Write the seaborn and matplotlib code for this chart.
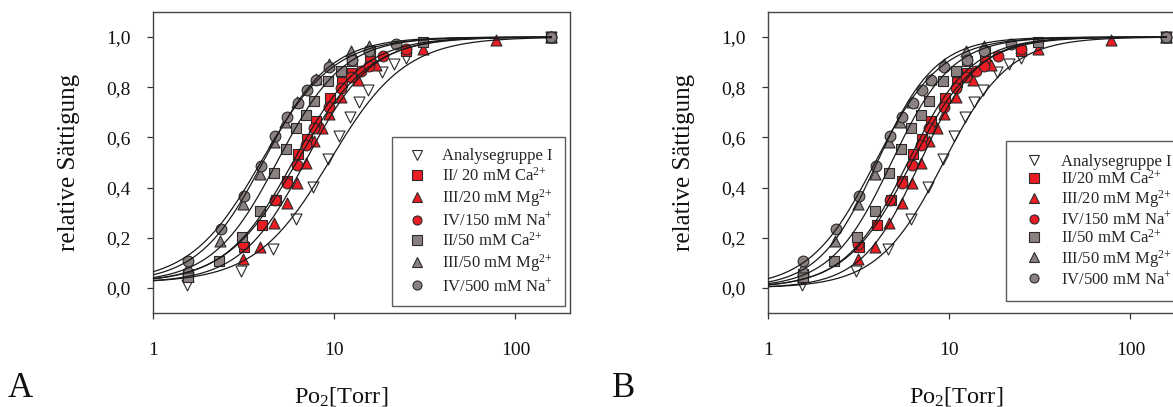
import numpy as np
import pandas as pd
import matplotlib
matplotlib.use("Agg")
import matplotlib.pyplot as plt
from matplotlib.lines import Line2D
import seaborn as sns

sns.set_theme(style="ticks")
plt.rcParams["font.family"] = ["Liberation Serif", "DejaVu Serif"]
plt.rcParams["mathtext.fontset"] = "custom"
plt.rcParams["mathtext.rm"] = "Liberation Serif"
plt.rcParams["mathtext.it"] = "Liberation Serif:italic"
plt.rcParams["mathtext.bf"] = "Liberation Serif:bold"

# ---- measured oxygen binding data (Po2 in Torr, relative saturation) ----
po2_ana = [1.54, 3.06, 4.6, 6.16, 7.65, 9.27, 10.65, 12.25, 13.75, 15.4, 18.4, 21.4, 24.9, 158]
sat_ana = [0.012, 0.068, 0.156, 0.276, 0.404, 0.512, 0.604, 0.68, 0.74, 0.788, 0.86, 0.892, 0.916, 1.0]

po2_ca20 = [1.56, 3.18, 4.0, 4.77, 5.5, 6.33, 7.1, 7.95, 9.5, 11.1, 12.6, 15.8, 25, 158]
sat_ca20 = [0.056, 0.164, 0.252, 0.352, 0.428, 0.532, 0.592, 0.664, 0.756, 0.82, 0.856, 0.904, 0.944, 1.0]

po2_mg20 = [1.56, 3.14, 3.9, 4.66, 5.5, 6.25, 7.0, 7.78, 8.6, 9.4, 10.9, 13.5, 17.0, 31, 78.5, 158]
sat_mg20 = [0.048, 0.116, 0.164, 0.26, 0.34, 0.42, 0.5, 0.585, 0.636, 0.692, 0.76, 0.83, 0.89, 0.952, 0.988, 1.0]

po2_na150 = [1.56, 3.14, 4.72, 5.5, 6.25, 7.0, 7.75, 9.4, 10.9, 12.4, 14.1, 15.6, 18.6, 25, 158]
sat_na150 = [0.05, 0.176, 0.352, 0.42, 0.492, 0.568, 0.636, 0.72, 0.796, 0.84, 0.864, 0.884, 0.924, 0.952, 1.0]

po2_ca50 = [1.56, 2.32, 3.1, 3.9, 4.66, 5.43, 6.16, 7.0, 7.75, 9.27, 10.9, 12.6, 15.8, 31, 158]
sat_ca50 = [0.044, 0.108, 0.204, 0.308, 0.46, 0.552, 0.636, 0.688, 0.744, 0.824, 0.864, 0.904, 0.944, 0.98, 1.0]

po2_mg50 = [1.56, 2.35, 3.14, 3.9, 4.66, 5.35, 6.25, 7.95, 9.4, 12.4, 15.6, 158]
sat_mg50 = [0.084, 0.188, 0.336, 0.456, 0.58, 0.66, 0.74, 0.832, 0.892, 0.944, 0.964, 1.0]

po2_na500 = [1.56, 2.38, 3.18, 3.95, 4.72, 5.5, 6.33, 7.1, 7.95, 9.4, 12.6, 15.6, 22, 158]
sat_na500 = [0.108, 0.236, 0.368, 0.488, 0.604, 0.68, 0.736, 0.788, 0.828, 0.88, 0.908, 0.944, 0.972, 1.0]

labels_a = ["Analysegruppe I", r"II/ 20 mM Ca$^{2{+}}$", r"III/20 mM Mg$^{2{+}}$",
            r"IV/150 mM Na$^{{+}}$", r"II/50 mM Ca$^{2{+}}$", r"III/50 mM Mg$^{2{+}}$",
            r"IV/500 mM Na$^{{+}}$"]
labels_b = ["Analysegruppe I", r"II/20 mM Ca$^{2{+}}$", r"III/20 mM Mg$^{2{+}}$",
            r"IV/150 mM Na$^{{+}}$", r"II/50 mM Ca$^{2{+}}$", r"III/50 mM Mg$^{2{+}}$",
            r"IV/500 mM Na$^{{+}}$"]

# ---- Hill fit parameters: half-saturation pressure P50, Hill coefficient n, baseline ----
p50_a = [9.5, 6.0, 7.0, 6.3, 4.9, 4.1, 4.0]
hill_a = [2.1, 2.3, 2.4, 2.2, 2.4, 2.4, 2.2]
base_a = [0.02, 0.02, 0.02, 0.02, 0.02, 0.02, 0.02]

p50_b = [9.3, 5.9, 6.9, 6.2, 4.8, 4.0, 3.9]
hill_b = [2.4, 2.5, 2.7, 2.4, 2.6, 2.7, 2.4]
base_b = [0.0, 0.0, 0.0, 0.0, 0.0, 0.0, 0.0]

x_ticks = [1, 10, 100]
x_ticklabels = ["1", "10", "100"]
y_ticks = [0.0, 0.2, 0.4, 0.6, 0.8, 1.0]
y_ticklabels = ["0,0", "0,2", "0,4", "0,6", "0,8", "1,0"]

series_x = [po2_ana, po2_ca20, po2_mg20, po2_na150, po2_ca50, po2_mg50, po2_na500]
series_y = [sat_ana, sat_ca20, sat_mg20, sat_na150, sat_ca50, sat_mg50, sat_na500]

RED = "#ec1c24"
GRAY = "#8b8080"
EDGE = "#2a2a2a"
styles = [
    dict(marker="v", color="white"),
    dict(marker="s", color=RED),
    dict(marker="^", color=RED),
    dict(marker="o", color=RED),
    dict(marker="s", color=GRAY),
    dict(marker="^", color=GRAY),
    dict(marker="o", color=GRAY),
]
sizes = {"v": 62, "s": 50, "^": 62, "o": 60}


def hill(x, p50, n, base):
    h = x ** n / (p50 ** n + x ** n)
    return base + (1 - base) * h


fig = plt.figure(figsize=(11.73, 4.07), dpi=100)
W, H = 1173.0, 407.0
ax_a = fig.add_axes([153 / W, (H - 313) / H, 417 / W, 301 / H])
ax_b = fig.add_axes([768 / W, (H - 313) / H, 417 / W, 301 / H])


def draw_panel(ax, p50s, hills, bases, labels, legend_xy, spacing, bpad, hlen):
    for i in range(7):
        st = styles[i]
        df = pd.DataFrame({"po2": series_x[i], "sat": series_y[i]})
        sns.scatterplot(data=df, x="po2", y="sat", ax=ax, marker=st["marker"],
                        color=st["color"], edgecolor=EDGE, linewidth=0.8,
                        s=sizes[st["marker"]], zorder=3, legend=False)
    for i in range(7):
        xs = np.logspace(0, np.log10(max(series_x[i])), 300)
        curve = pd.DataFrame({"po2": xs, "sat": hill(xs, p50s[i], hills[i], bases[i])})
        sns.lineplot(data=curve, x="po2", y="sat", ax=ax, color="#1a1a1a",
                     linewidth=0.9, zorder=4, legend=False)

    ax.set_xscale("log")
    ax.set_xlim(1, 200)
    ax.set_ylim(-0.1, 1.1)
    ax.set_xticks(x_ticks)
    ax.set_xticklabels(x_ticklabels)
    ax.xaxis.set_minor_locator(matplotlib.ticker.NullLocator())
    ax.set_yticks(y_ticks)
    ax.set_yticklabels(y_ticklabels)
    ax.tick_params(axis="both", direction="out", length=4, width=0.9,
                   color="#333333", labelsize=14, labelcolor="#111111")
    ax.tick_params(axis="y", pad=12)
    ax.tick_params(axis="x", pad=17)
    for sp in ax.spines.values():
        sp.set_visible(True)
        sp.set_color("#444444")
        sp.set_linewidth(1.0)
    ax.set_xlabel(r"Po$_{\mathrm{2}}$[Torr]", fontsize=17.5, color="#111111")
    ax.set_ylabel("relative Sättigung", fontsize=18, color="#111111")
    ax.xaxis.set_label_coords(0.45, -0.24)
    ax.yaxis.set_label_coords(-0.175, 0.5)

    handles = [Line2D([], [], linestyle="none", marker=styles[i]["marker"],
                      markerfacecolor=styles[i]["color"], markeredgecolor=EDGE,
                      markeredgewidth=0.8, markersize=6.5) for i in range(7)]
    leg = ax.legend(handles, labels, loc="upper left",
                    bbox_to_anchor=(legend_xy[0] / W, 1 - legend_xy[1] / H),
                    bbox_transform=fig.transFigure, borderaxespad=0,
                    fontsize=12, frameon=True, fancybox=False, edgecolor="#333333",
                    borderpad=bpad, handlelength=hlen, handletextpad=0.75,
                    labelspacing=spacing)
    leg.get_frame().set_linewidth(1.0)
    leg.set_zorder(5)


draw_panel(ax_a, p50_a, hill_a, base_a, labels_a, (392, 137), 0.15, 0.68, 1.6)
draw_panel(ax_b, p50_b, hill_b, base_b, labels_b, (1006, 141), 0.03, 0.75, 1.8)

fig.text(8 / W, 10 / H, "A", fontsize=25, color="#111111")
fig.text(612 / W, 10 / H, "B", fontsize=25, color="#111111")

fig.savefig("out.png", dpi=100)
